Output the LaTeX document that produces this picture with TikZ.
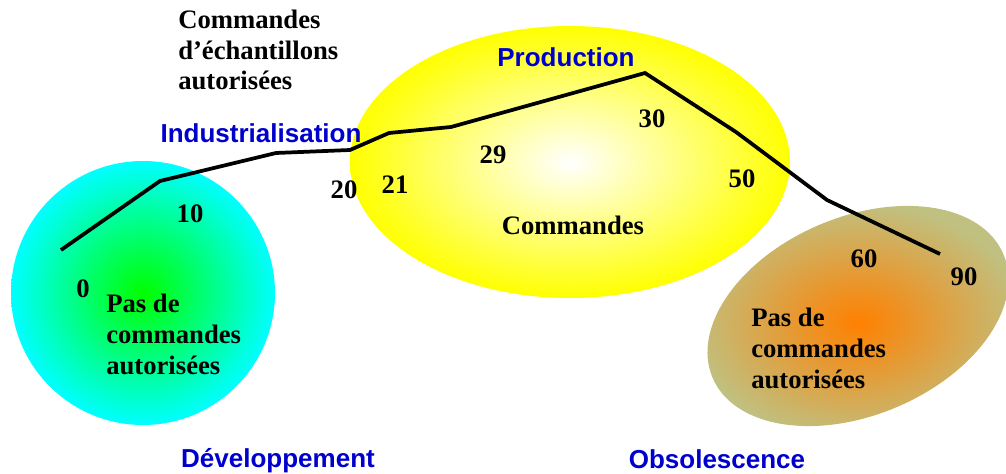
\documentclass[tikz,border=0pt]{standalone}
\usepackage{fontspec}
\setmainfont{Liberation Serif}
\newfontfamily\phasefont{Liberation Sans}
\usepackage{xcolor}
\usepackage{tikz}
\usetikzlibrary{calc}

\definecolor{phaseblue}{RGB}{0,0,204}
\definecolor{oldolive}{RGB}{192,192,128}
\definecolor{hotorange}{RGB}{255,128,0}

\begin{document}
\begin{tikzpicture}[
    x=0.75pt, y=-0.75pt,
    num/.style={anchor=base, inner sep=0pt,
                font=\fontsize{20}{23}\selectfont\bfseries},
    txt/.style={anchor=base west, inner sep=0pt, align=left,
                font=\fontsize{20}{23}\selectfont\bfseries},
    phase/.style={anchor=base, inner sep=0pt, text=phaseblue,
                  font=\phasefont\fontsize{19.5}{23}\selectfont\bfseries}
]
    \useasboundingbox (0,0) rectangle (1006,474);

    % zones
    \shade[inner color=green, outer color=cyan] (143,293) circle [radius=132];
    \shade[inner color=white, outer color=yellow]
        (570,162) ellipse [x radius=220, y radius=136];
    \shade[inner color=hotorange, outer color=oldolive,
           rotate around={23:(858,316)}]
        (858,316) ellipse [x radius=158, y radius=99];

    % courbe de vie
    \coordinate (c0)  at (61,250);
    \coordinate (c10) at (160,181);
    \coordinate (c15) at (276,153);
    \coordinate (c20) at (350,150);
    \coordinate (c21) at (389,133);
    \coordinate (c29) at (451,127);
    \coordinate (c30) at (645,73);
    \coordinate (c50) at (736,132);
    \coordinate (c60) at (827,200);
    \coordinate (c90) at (940,254);
    \draw[line width=2.8pt] (c0) -- (c10) -- (c15) -- (c20) -- (c21)
        -- (c29) -- (c30) -- (c50) -- (c60) -- (c90);

    \node[num] (N0)  at (83,297)  {0};
    \node[num] (N10) at (190,222) {10};
    \node[num] (N20) at (344,198) {20};
    \node[num] (N21) at (395,193) {21};
    \node[num] (N29) at (493,164) {29};
    \node[num] (N30) at (652,128) {30};
    \node[num] (N50) at (742,187) {50};
    \node[num] (N60) at (864,267) {60};
    \node[num] (N90) at (964,285) {90};

    \node[phase] (Ind)  at (261,143) {Industrialisation};
    \node[phase] (Prod) at (566,67)  {Production};
    \node[phase] (Dev)  at (278,467) {Développement};
    \node[phase] (Obs)  at (717,468) {Obsolescence};

    % anchor base = last line
    \node[txt] (Ech) at (178,90) {Commandes\\d’échantillons\\autorisées};
    \node[num] (Cmd) at (573,234) {Commandes};
    \node[txt] (PasL) at (106,374) {Pas de\\commandes\\autorisées};
    \node[txt] (PasR) at (751,388) {Pas de\\commandes\\autorisées};
\end{tikzpicture}
\end{document}
